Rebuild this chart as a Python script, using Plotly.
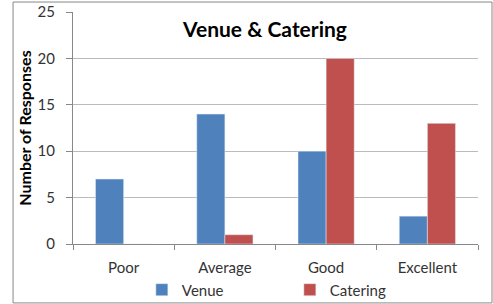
import plotly.graph_objects as go

categories = ["Poor", "Average", "Good", "Excellent"]
venue = [7, 14, 10, 3]
catering = [0, 1, 20, 13]

FONT = "Lato, Liberation Sans, sans-serif"
fig = go.Figure()
fig.add_trace(go.Bar(name="Venue", x=categories, y=venue, marker_color="#4F81BD"))
fig.add_trace(go.Bar(name="Catering", x=categories, y=catering, marker_color="#C0504D"))

fig.update_layout(
    width=493, height=304,
    margin=dict(l=73, r=15, t=12, b=60, autoexpand=False),
    paper_bgcolor="white", plot_bgcolor="white",
    barmode="group", bargap=0.445, bargroupgap=0,
    font=dict(family=FONT, size=15, color="#333"),
    title=dict(text="<b>Venue & Catering</b>", x=0.5375, xanchor="center",
               y=0.901, yanchor="middle", yref="container",
               font=dict(size=21, color="black", family=FONT)),
    showlegend=True,
    legend=dict(orientation="h", x=0.17, xanchor="left", y=-0.198, yanchor="middle",
                font=dict(size=15, color="#333"), entrywidth=103, entrywidthmode="pixels",
                traceorder="normal", itemwidth=30, bgcolor="rgba(0,0,0,0)"),
    xaxis=dict(showline=True, linecolor="#888", ticks="outside", tickson="boundaries",
               ticklen=5, tickcolor="#888", tickfont=dict(size=15), ticklabelstandoff=10),
    yaxis=dict(range=[0, 25], dtick=5, showgrid=True, gridcolor="#BBBBBB",
               showline=True, linecolor="#888", ticks="outside", ticklen=6,
               tickcolor="#888", zeroline=False, tickfont=dict(size=15), ticklabelstandoff=8,
               ticklabeloverflow="allow",
               title=dict(text="<b>Number of Responses</b>", font=dict(size=16, color="black"),
                          standoff=1)),
    shapes=[dict(type="rect", xref="paper", yref="paper",
                 x0=-0.148, x1=1.0346, y0=-0.254, y1=1.043,
                 line=dict(color="#888", width=1))],
)

fig.write_html("out.html", config={"displayModeBar": False},
               post_script="document.body.style.margin='0px';")
